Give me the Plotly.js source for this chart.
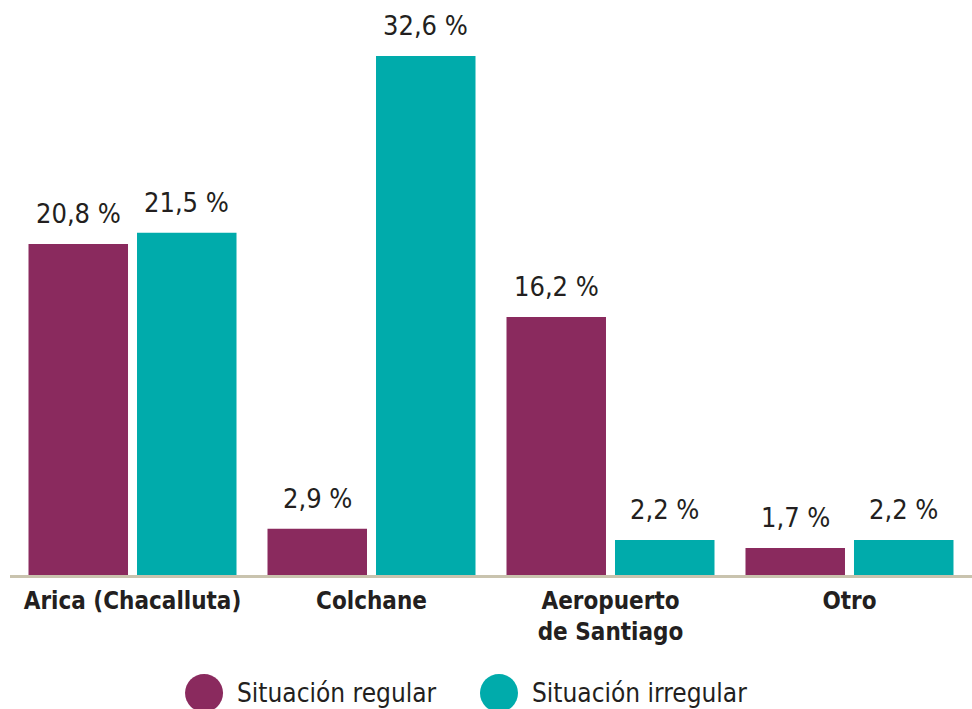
<!DOCTYPE html>
<html>
<head>
<meta charset="utf-8">
<script src="https://cdn.plot.ly/plotly-3.0.1.min.js"></script>
<style>
html,body{margin:0;padding:0;background:#fff;}
#chart{width:972px;height:709px;}
</style>
</head>
<body>
<div id="chart"></div>
<script>
var categories = ["Arica (Chacalluta)", "Colchane", "Aeropuerto<br>de Santiago", "Otro"];
var regular = [20.8, 2.9, 16.2, 1.7];
var irregular = [21.5, 32.6, 2.2, 2.2];
var seriesNames = ["Situación regular", "Situación irregular"];
var colors = ["#8a2a5e", "#00abab"];

var FONT = "DejaVu Sans Condensed, sans-serif";
var TXT = "#231f20";

function fmt(v){ return v.toFixed(1).replace('.', ',') + ' %'; }

var traces = [
  {type:'bar', x:categories, y:regular, name:seriesNames[0], marker:{color:colors[0]}, hoverinfo:'none'},
  {type:'bar', x:categories, y:irregular, name:seriesNames[1], marker:{color:colors[1]}, hoverinfo:'none'}
];

var annotations = [];
var shift = 54.25;
[regular, irregular].forEach(function(arr, si){
  arr.forEach(function(v, i){
    annotations.push({
      x: categories[i], y: v, xref:'x', yref:'y',
      text: fmt(v), showarrow:false, yanchor:'bottom', xanchor:'center',
      xshift: si === 0 ? -shift : shift, yshift: 13,
      font:{family:FONT, size:27, color:TXT}
    });
  });
});

// manual legend with circles
var legendX = [0.2017, 0.5083];
var shapes = [];
seriesNames.forEach(function(n, i){
  shapes.push({type:'circle', xref:'paper', yref:'paper', xsizemode:'pixel', ysizemode:'pixel',
    xanchor: legendX[i], yanchor: -0.2052, x0:-19, x1:19, y0:-19, y1:19,
    fillcolor: colors[i], line:{width:0}});
  annotations.push({xref:'paper', yref:'paper', x: legendX[i], y: -0.2052, xshift: 31,
    xanchor:'left', yanchor:'middle', text:n, showarrow:false,
    font:{family:FONT, size:26, color:TXT}});
});

var layout = {
  width:972, height:709,
  margin:{l:10, r:0, t:0, b:134},
  paper_bgcolor:'#fff', plot_bgcolor:'#fff',
  barmode:'group', bargap:0.092, bargroupgap:0.083,
  showlegend:false,
  xaxis:{type:'category', range:[-0.5126, 3.5126], showgrid:false, zeroline:false,
    showline:true, linecolor:'#c9c3ae', linewidth:3, ticks:'',
    tickfont:{family:FONT, size:24, color:TXT, weight:'bold'}, ticklabelstandoff:2},
  yaxis:{range:[0, 36.12], visible:false, showgrid:false, zeroline:false, fixedrange:true},
  annotations: annotations,
  shapes: shapes
};

Plotly.newPlot('chart', traces, layout, {displayModeBar:false, staticPlot:true});
</script>
</body>
</html>
